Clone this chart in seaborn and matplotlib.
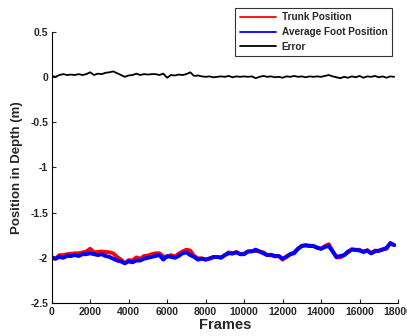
import matplotlib
matplotlib.use("Agg")
import matplotlib.pyplot as plt
import seaborn as sns
import pandas as pd
import numpy as np

frames = list(range(0, 18000, 200))

foot = [-2.00, -2.01, -1.99, -2.00, -1.98, -1.98, -1.97, -1.98, -1.96, -1.96,
        -1.95, -1.96, -1.97, -1.96, -1.98, -1.99, -2.01, -2.03, -2.04, -2.06,
        -2.04, -2.05, -2.03, -2.03, -2.01, -2.00, -1.99, -1.98, -1.97, -2.02,
        -1.98, -1.99, -2.00, -1.98, -1.95, -1.94, -1.97, -1.99, -2.02, -2.01,
        -2.02, -2.01, -1.99, -1.99, -2.00, -1.97, -1.95, -1.95, -1.94, -1.96,
        -1.96, -1.93, -1.93, -1.91, -1.93, -1.95, -1.97, -1.97, -1.98, -1.98,
        -2.01, -1.99, -1.96, -1.95, -1.90, -1.87, -1.86, -1.87, -1.87, -1.89,
        -1.90, -1.88, -1.87, -1.93, -1.99, -1.98, -1.97, -1.93, -1.91, -1.91,
        -1.92, -1.93, -1.92, -1.95, -1.93, -1.92, -1.91, -1.89, -1.84, -1.86]

trunk = [-1.99, -2.01, -1.97, -1.97, -1.96, -1.955, -1.95, -1.95, -1.94, -1.93,
         -1.90, -1.94, -1.935, -1.93, -1.935, -1.94, -1.95, -1.99, -2.02, -2.06,
         -2.025, -2.03, -1.995, -2.01, -1.98, -1.975, -1.96, -1.95, -1.95, -1.985,
         -1.99, -1.97, -1.985, -1.955, -1.93, -1.91, -1.92, -1.98, -2.005, -2.005,
         -2.02, -2.005, -1.995, -1.99, -1.995, -1.97, -1.94, -1.955, -1.935, -1.96,
         -1.955, -1.93, -1.925, -1.925, -1.93, -1.94, -1.97, -1.965, -1.985, -1.98,
         -2.02, -1.985, -1.96, -1.94, -1.90, -1.865, -1.865, -1.865, -1.87, -1.885,
         -1.90, -1.87, -1.85, -1.925, -1.995, -1.995, -1.97, -1.94, -1.905, -1.915,
         -1.91, -1.94, -1.915, -1.95, -1.92, -1.925, -1.905, -1.90, -1.835, -1.86]

error = [0.01, 0.00, 0.02, 0.03, 0.02, 0.025, 0.02, 0.03, 0.02, 0.03,
         0.05, 0.02, 0.035, 0.03, 0.045, 0.05, 0.06, 0.04, 0.02, 0.00,
         0.015, 0.02, 0.035, 0.02, 0.03, 0.025, 0.03, 0.03, 0.02, 0.035,
         -0.01, 0.02, 0.015, 0.025, 0.02, 0.03, 0.05, 0.01, 0.015, 0.005,
         0.0, 0.005, -0.005, 0.0, 0.005, 0.0, 0.01, -0.005, 0.005, 0.0,
         0.005, 0.0, 0.005, -0.015, 0.0, 0.01, 0.0, 0.005, -0.005, 0.0,
         -0.01, 0.005, 0.0, 0.01, 0.0, 0.005, -0.005, 0.005, 0.0, 0.005,
         0.0, 0.01, 0.02, 0.005, -0.005, -0.015, 0.0, -0.01, 0.005, -0.005,
         0.01, -0.01, 0.005, 0.0, 0.01, -0.005, 0.005, -0.01, 0.005, 0.0]

labels = ["Trunk Position", "Average Foot Position", "Error"]
colors = ["#ff0000", "#0000ff", "#000000"]
yticks = [-2.5, -2, -1.5, -1, -0.5, 0, 0.5]
ytick_labels = ["-2.5", "-2", "-1.5", "-1", "-0.5", "0", "0.5"]
xticks = list(range(0, 18001, 2000))

sns.set_style("ticks")
plt.rcParams["font.family"] = ["Liberation Sans", "DejaVu Sans"]

fig = plt.figure(figsize=(4.07, 3.36), dpi=100)
ax = fig.add_axes([0.127, 0.098, 0.851, 0.808])

df_t = pd.DataFrame({"Frames": frames, "val": trunk})
df_f = pd.DataFrame({"Frames": frames, "val": foot})
df_e = pd.DataFrame({"Frames": frames, "val": error})

sns.lineplot(data=df_t, x="Frames", y="val", ax=ax, color=colors[0], lw=2.8, label=labels[0])
sns.lineplot(data=df_f, x="Frames", y="val", ax=ax, color=colors[1], lw=2.8, label=labels[1])
sns.lineplot(data=df_e, x="Frames", y="val", ax=ax, color=colors[2], lw=1.3, label=labels[2])

ax.set_xlim(0, 18000)
ax.set_ylim(-2.5, 0.5)
ax.set_xticks(xticks)
ax.set_xticklabels([str(v) for v in xticks])
ax.set_yticks(yticks)
ax.set_yticklabels(ytick_labels)
ax.tick_params(direction="in", length=3, width=0.8, labelsize=7.5, pad=2.5)
for t in ax.get_xticklabels() + ax.get_yticklabels():
    t.set_fontweight("bold")
for s in ["top", "right"]:
    ax.spines[s].set_visible(False)
for s in ["left", "bottom"]:
    ax.spines[s].set_linewidth(0.8)
    ax.spines[s].set_color("black")

ax.set_xlabel("Frames", fontsize=10.5, fontweight="bold", labelpad=1)
ax.set_ylabel("Position in Depth (m)", fontsize=9.5, fontweight="bold", labelpad=5)

for t in ax.get_xticklabels():
    t.set_clip_on(False)

leg = ax.legend(loc="upper right", bbox_to_anchor=(392 / 407, 1 - 8 / 336),
                bbox_transform=fig.transFigure, frameon=True, fancybox=False,
                borderaxespad=0, prop={"weight": "bold", "size": 7.2},
                handlelength=3.6, handletextpad=0.6, labelspacing=0.45,
                borderpad=0.45)
leg.get_frame().set_edgecolor("black")
leg.get_frame().set_linewidth(0.8)
for h in leg.get_lines():
    h.set_linewidth(1.3)

fig.savefig("out.png", dpi=100)
